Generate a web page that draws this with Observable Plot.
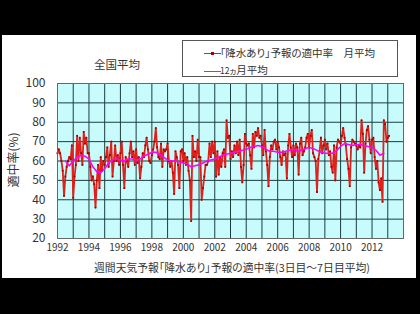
<!DOCTYPE html>
<html><head><meta charset="utf-8">
<script src="https://cdn.jsdelivr.net/npm/d3@7"></script>
<script src="https://cdn.jsdelivr.net/npm/@observablehq/plot@0.6"></script>
<style>
html,body{margin:0;padding:0;background:#000;width:420px;height:314px;overflow:hidden;font-family:"Noto Sans CJK JP",sans-serif;}
#card{position:absolute;left:2px;top:35px;width:414px;height:243px;background:#fff;}
#chart{position:absolute;left:0;top:0;}
.t{position:absolute;color:#333;white-space:nowrap;line-height:1;font-feature-settings:"palt";}
.c{transform:translate(-50%,-50%);}
#legend{position:absolute;left:182px;top:40px;width:214px;height:35px;border:1px solid #555;background:#fff;}
.sw{position:absolute;left:21px;width:17px;height:0;}
</style></head>
<body>
<div id="card"></div>
<div id="chart"></div>
<div class="t c" style="left:117px;top:65px;font-size:11.5px;">全国平均</div>
<div class="t" style="left:13px;top:160px;font-size:12px;transform:translate(-50%,-50%) rotate(-90deg);">適中率(%)</div>
<div class="t c" style="left:232px;top:267px;font-size:10.8px;">週間天気予報「降水あり」予報の適中率(3日目～7日目平均)</div>
<div id="legend">
  <div class="sw" style="top:12px;border-top:1.8px solid #e0201a;"></div>
  <div style="position:absolute;left:28px;top:11px;width:3px;height:3px;background:#a00000;"></div>
  <div class="t" style="left:37px;top:7px;font-size:10.5px;">「降水あり」予報の適中率　月平均</div>
  <div class="sw" style="top:30px;border-top:1.6px solid #ff00ff;"></div>
  <div class="t" style="left:37px;top:24px;font-size:10.5px;"><span style="font-size:8.5px">12ヵ</span>月平均</div>
</div>
<script>
// monthly hit rate (%), Jan 1992 .. Feb 2013
const startYear = 1992;
const monthlyRate = [
  64, 66, 64, 60, 55, 42, 52, 57, 60, 62, 61, 68, // 1992
  41, 52, 58, 73, 60, 72, 64, 58, 75, 69, 72, 64, // 1993
  64, 57, 50, 52, 48, 36, 50, 58, 46, 62, 55, 60, // 1994
  58, 62, 67, 57, 63, 70, 52, 60, 68, 60, 63, 58, // 1995
  64, 70, 58, 46, 62, 60, 57, 64, 70, 62, 65, 58, // 1996
  66, 59, 62, 51, 57, 64, 62, 68, 72, 66, 60, 59, // 1997
  63, 66, 70, 77, 67, 62, 61, 69, 57, 66, 65, 66, // 1998
  69, 60, 57, 60, 54, 43, 65, 62, 58, 46, 65, 66, // 1999
  60, 64, 58, 62, 55, 50, 29, 73, 62, 65, 60, 71, // 2000
  62, 62, 40, 46, 52, 58, 58, 60, 69, 62, 70, 64, // 2001
  70, 52, 65, 53, 62, 57, 64, 66, 57, 81, 72, 73, // 2002
  61, 65, 62, 68, 64, 70, 63, 71, 57, 49, 58, 74, // 2003
  69, 68, 69, 63, 56, 74, 67, 75, 73, 77, 72, 73, // 2004
  68, 63, 76, 65, 58, 47, 62, 68, 66, 70, 71, 66, // 2005
  70, 67, 62, 58, 65, 63, 64, 51, 68, 74, 67, 62, // 2006
  68, 63, 69, 67, 53, 69, 72, 63, 65, 67, 72, 74, // 2007
  67, 73, 76, 64, 62, 60, 44, 61, 65, 72, 64, 68, // 2008
  71, 66, 69, 63, 65, 57, 54, 68, 50, 67, 71, 70, // 2009
  69, 73, 77, 72, 68, 61, 56, 47, 67, 71, 70, 69, // 2010
  68, 66, 68, 67, 81, 74, 54, 69, 76, 78, 71, 64, // 2011
  71, 72, 62, 56, 60, 49, 45, 51, 39, 81, 79, 70, // 2012
  72, 73                                          // 2013
];
// 12-month mean, read quarterly from mid-1992
const avgStart = 1992.5;
const avgStep = 0.25;
const avg12 = [
  60, 57.5, 60, 62, 63, 62.5, 61, 57, 54.5, 54,
  56, 59, 60.5, 61, 60.5, 60, 61, 61, 60.5, 61,
  62.5, 63.5, 64.5, 64.5, 63.5, 62, 60.5, 60, 60, 59.5,
  59, 58.5, 57, 57.5, 58, 59, 60, 60.5, 61, 62,
  63, 63.5, 64, 64.5, 65, 65.5, 66, 67, 67.5, 68,
  67.5, 66, 65, 65, 64.5, 64.5, 65, 65.5, 66, 65,
  65.5, 66.5, 67, 66.5, 65.5, 64.5, 64, 64, 64, 65.5,
  67.5, 69, 68.5, 68, 68.5, 68.5, 68, 67.5, 67, 65.5,
  63, 64
];
const gridYears = d3.range(1992, 2015);
const xTicks = [1992, 1994, 1996, 1998, 2000, 2002, 2004, 2006, 2008, 2010, 2012];
const yTicks = [20, 30, 40, 50, 60, 70, 80, 90, 100];

const monthly = monthlyRate.map((v, i) => ({t: startYear + i / 12, v}));
const avg = avg12.map((v, i) => ({t: avgStart + i * avgStep, v}));

const chart = Plot.plot({
  width: 420, height: 314,
  marginLeft: 57, marginRight: 17, marginTop: 83, marginBottom: 76,
  x: {domain: [1992, 2014], axis: null},
  y: {domain: [20, 100], axis: null},
  style: {background: "transparent", fontFamily: "'Noto Sans CJK JP', sans-serif", color: "#333"},
  marks: [
    Plot.frame({fill: "#c8fcfc", stroke: null}),
    Plot.ruleX(gridYears, {stroke: "#1c3c3c", strokeWidth: 1}),
    Plot.ruleY(yTicks, {stroke: "#1c3c3c", strokeWidth: 1}),
    Plot.line(monthly, {x: "t", y: "v", stroke: "#e0201a", strokeWidth: 1.8}),
    Plot.dot(monthly, {x: "t", y: "v", r: 1, fill: "#a00000", stroke: null, symbol: "square"}),
    Plot.line(avg, {x: "t", y: "v", stroke: "#ff00ff", strokeWidth: 1.6}),
    Plot.frame({stroke: "#666"}),
    Plot.text(yTicks, {y: d => d, frameAnchor: "left", dx: -12, textAnchor: "end", fontSize: 12, text: d => String(d), fill: "#333"}),
    Plot.text(xTicks, {x: d => d, frameAnchor: "bottom", dy: 12, fontSize: 10, text: d => String(d), fill: "#333"})
  ]
});
document.getElementById("chart").appendChild(chart);
</script>
</body></html>
